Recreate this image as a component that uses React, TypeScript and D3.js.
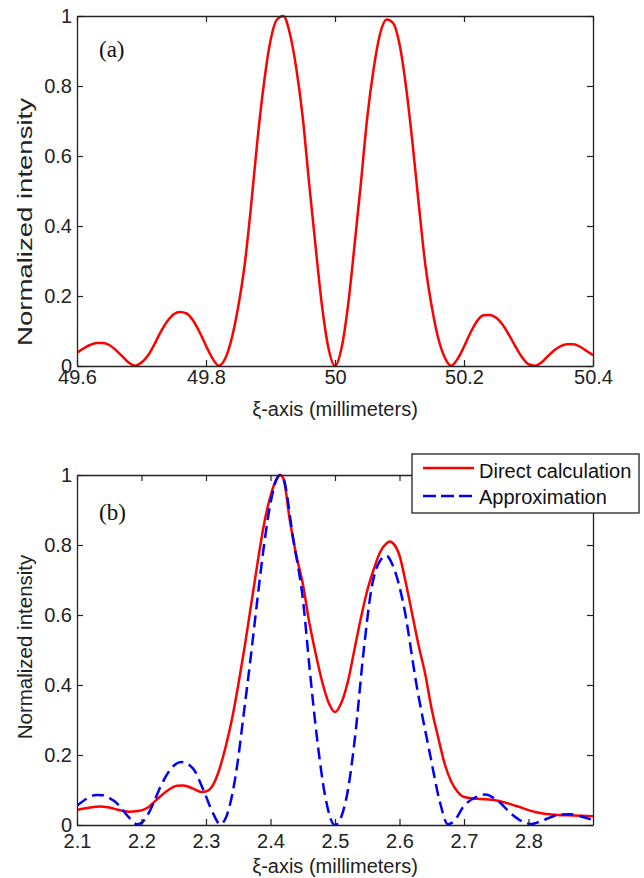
import React, { useRef, useEffect } from "react";
import * as d3 from "d3";

// ---- panel (a): direct calculation around 50 mm ----
const curveA: [number, number][] = [
  [49.6, 0.038], [49.61, 0.05], [49.62, 0.06], [49.63, 0.066], [49.64, 0.066],
  [49.65, 0.06], [49.66, 0.046], [49.67, 0.028], [49.68, 0.01], [49.69, 0.001],
  [49.7, 0.01], [49.71, 0.03], [49.72, 0.062], [49.73, 0.098], [49.74, 0.128],
  [49.75, 0.148], [49.76, 0.154], [49.77, 0.15], [49.78, 0.13], [49.79, 0.097],
  [49.8, 0.058], [49.81, 0.022], [49.82, 0.001], [49.83, 0.022], [49.84, 0.08],
  [49.85, 0.17], [49.86, 0.29], [49.87, 0.46], [49.88, 0.65], [49.89, 0.81],
  [49.9, 0.93], [49.91, 0.99], [49.92, 1.0], [49.93, 0.95], [49.94, 0.85],
  [49.95, 0.71], [49.96, 0.52], [49.97, 0.34], [49.98, 0.17], [49.99, 0.05],
  [50.0, 0.0], [50.01, 0.05], [50.02, 0.17], [50.03, 0.34], [50.04, 0.52],
  [50.05, 0.71], [50.06, 0.85], [50.07, 0.95], [50.08, 0.99], [50.09, 0.98],
  [50.1, 0.92], [50.11, 0.8], [50.12, 0.64], [50.13, 0.46], [50.14, 0.29],
  [50.15, 0.17], [50.16, 0.08], [50.17, 0.025], [50.18, 0.001], [50.19, 0.02],
  [50.2, 0.055], [50.21, 0.095], [50.22, 0.128], [50.23, 0.145], [50.24, 0.146],
  [50.25, 0.138], [50.26, 0.118], [50.27, 0.088], [50.28, 0.055], [50.29, 0.025],
  [50.3, 0.005], [50.31, 0.001], [50.32, 0.01], [50.33, 0.028], [50.34, 0.045],
  [50.35, 0.057], [50.36, 0.062], [50.37, 0.062], [50.38, 0.055], [50.39, 0.043],
  [50.4, 0.031],
];

// ---- panel (b): direct calculation vs approximation ----
const directB: [number, number][] = [
  [2.1, 0.043], [2.12, 0.05], [2.135, 0.053], [2.15, 0.05], [2.165, 0.043],
  [2.18, 0.038], [2.195, 0.04], [2.21, 0.05], [2.225, 0.075], [2.24, 0.098],
  [2.255, 0.112], [2.265, 0.113], [2.28, 0.104], [2.293, 0.094], [2.303, 0.098],
  [2.312, 0.118], [2.32, 0.155], [2.33, 0.22], [2.34, 0.3], [2.35, 0.4],
  [2.36, 0.51], [2.37, 0.63], [2.38, 0.75], [2.39, 0.86], [2.4, 0.94],
  [2.41, 0.99], [2.415, 1.0], [2.42, 0.99], [2.43, 0.87], [2.44, 0.77],
  [2.45, 0.69], [2.46, 0.58], [2.47, 0.49], [2.48, 0.41], [2.49, 0.35],
  [2.5, 0.323], [2.51, 0.35], [2.52, 0.41], [2.53, 0.5], [2.54, 0.59],
  [2.55, 0.67], [2.56, 0.73], [2.57, 0.78], [2.58, 0.805], [2.585, 0.81],
  [2.59, 0.805], [2.6, 0.77], [2.61, 0.69], [2.62, 0.6], [2.63, 0.51],
  [2.64, 0.43], [2.65, 0.33], [2.66, 0.25], [2.67, 0.175], [2.68, 0.125],
  [2.69, 0.095], [2.7, 0.08], [2.72, 0.075], [2.75, 0.07], [2.78, 0.055],
  [2.81, 0.037], [2.84, 0.029], [2.87, 0.027], [2.9, 0.025],
];

const approxB: [number, number][] = [
  [2.1, 0.055], [2.115, 0.075], [2.13, 0.086], [2.14, 0.085], [2.15, 0.077],
  [2.162, 0.062], [2.172, 0.04], [2.182, 0.019], [2.193, 0.002], [2.2, 0.006],
  [2.208, 0.024], [2.218, 0.06], [2.229, 0.108], [2.244, 0.157], [2.262, 0.18],
  [2.28, 0.161], [2.296, 0.1], [2.311, 0.033], [2.322, 0.002], [2.335, 0.043],
  [2.348, 0.166], [2.358, 0.31], [2.37, 0.49], [2.38, 0.65], [2.39, 0.8],
  [2.4, 0.92], [2.41, 0.99], [2.415, 1.0], [2.42, 0.99], [2.435, 0.82],
  [2.451, 0.632], [2.461, 0.44], [2.472, 0.25], [2.485, 0.08], [2.5, 0.0],
  [2.518, 0.08], [2.531, 0.25], [2.544, 0.49], [2.557, 0.68], [2.57, 0.755],
  [2.58, 0.769], [2.59, 0.74], [2.606, 0.632], [2.627, 0.394], [2.647, 0.205],
  [2.663, 0.063], [2.675, 0.002], [2.685, 0.012], [2.699, 0.052], [2.72, 0.081],
  [2.733, 0.087], [2.751, 0.071], [2.776, 0.028], [2.797, 0.005], [2.805, 0.003],
  [2.818, 0.01], [2.844, 0.028], [2.864, 0.031], [2.88, 0.025], [2.9, 0.014],
];

const yTicks = [0, 0.2, 0.4, 0.6, 0.8, 1];
const yTickLabels = ["0", "0.2", "0.4", "0.6", "0.8", "1"];
const xTicksA = [49.6, 49.8, 50, 50.2, 50.4];
const xTickLabelsA = ["49.6", "49.8", "50", "50.2", "50.4"];
const xTicksB = [2.1, 2.2, 2.3, 2.4, 2.5, 2.6, 2.7, 2.8];
const xTickLabelsB = ["2.1", "2.2", "2.3", "2.4", "2.5", "2.6", "2.7", "2.8"];
const legendLabels = ["Direct calculation", "Approximation"];

const SANS = "Arial, 'Liberation Sans', sans-serif";
const SERIF = "'Times New Roman', 'Liberation Serif', serif";
const AXIS = "#222";

type Panel = {
  id: string;
  top: number;
  bottom: number;
  domain: [number, number];
  ticks: number[];
  tickLabels: string[];
  tag: string;
  tagY: number;
  xPad: number;
  xLabelY: number;
  yLabelY: number;
  yLabelLen?: number;
  yLabelSize: number;
};

const App: React.FC = () => {
  const svgRef = useRef<SVGSVGElement | null>(null);

  useEffect(() => {
    const svg = d3.select(svgRef.current);
    svg.selectAll("*").remove();

    const left = 77;
    const right = 593;

    const drawPanel = (p: Panel, series: { data: [number, number][]; color: string; dash?: string }[]) => {
      const x = d3.scaleLinear().domain(p.domain).range([left, right]);
      const y = d3.scaleLinear().domain([0, 1]).range([p.bottom, p.top]);
      const g = svg.append("g");

      g.append("clipPath").attr("id", `clip-${p.id}`)
        .append("rect")
        .attr("x", left).attr("y", p.top - 2)
        .attr("width", right - left).attr("height", p.bottom - p.top + 2);

      const line = d3.line<[number, number]>()
        .x((d) => x(d[0]))
        .y((d) => y(d[1]))
        .curve(d3.curveMonotoneX);

      series.forEach((s) => {
        g.append("path")
          .datum(s.data)
          .attr("clip-path", `url(#clip-${p.id})`)
          .attr("d", line)
          .attr("fill", "none")
          .attr("stroke", s.color)
          .attr("stroke-width", 2.5)
          .attr("stroke-linejoin", "round")
          .attr("stroke-dasharray", s.dash ?? null);
      });

      // axes, ticks pointing inward like matlab
      const bottomAxis = d3.axisBottom(x)
        .tickValues(p.ticks)
        .tickFormat((_, i) => p.tickLabels[i])
        .tickSizeInner(-6).tickSizeOuter(0).tickPadding(p.xPad);
      const topAxis = d3.axisTop(x).tickValues(p.ticks).tickFormat(() => "")
        .tickSizeInner(-6).tickSizeOuter(0);
      const leftAxis = d3.axisLeft(y)
        .tickValues(yTicks)
        .tickFormat((_, i) => yTickLabels[i])
        .tickSizeInner(-6).tickSizeOuter(0).tickPadding(5);
      const rightAxis = d3.axisRight(y).tickValues(yTicks).tickFormat(() => "")
        .tickSizeInner(-6).tickSizeOuter(0);

      const axes = [
        g.append("g").attr("transform", `translate(0,${p.bottom})`).call(bottomAxis),
        g.append("g").attr("transform", `translate(0,${p.top})`).call(topAxis),
        g.append("g").attr("transform", `translate(${left},0)`).call(leftAxis),
        g.append("g").attr("transform", `translate(${right},0)`).call(rightAxis),
      ];
      axes.forEach((a) => {
        a.select(".domain").attr("stroke", AXIS).attr("stroke-width", 1.3);
        a.selectAll(".tick line").attr("stroke", AXIS).attr("stroke-width", 1.2);
        a.selectAll(".tick text")
          .attr("fill", AXIS)
          .style("font-family", SANS)
          .style("font-size", "20px");
      });

      g.append("text")
        .attr("x", 99).attr("y", p.tagY)
        .style("font-family", SERIF).style("font-size", "23px")
        .attr("fill", "#111")
        .text(p.tag);

      g.append("text")
        .attr("x", (left + right) / 2).attr("y", p.xLabelY)
        .attr("text-anchor", "middle")
        .attr("fill", AXIS)
        .style("font-family", SANS).style("font-size", "20px")
        .text("ξ-axis (millimeters)");

      const yl = g.append("text")
        .attr("transform", `translate(32,${p.yLabelY}) rotate(-90)`)
        .attr("text-anchor", "middle")
        .attr("fill", AXIS)
        .style("font-family", SANS).style("font-size", `${p.yLabelSize}px`)
        .text("Normalized intensity");
      if (p.yLabelLen) {
        yl.attr("textLength", p.yLabelLen).attr("lengthAdjust", "spacingAndGlyphs");
      }
    };

    drawPanel(
      {
        id: "a", top: 16, bottom: 366, domain: [49.6, 50.4],
        ticks: xTicksA, tickLabels: xTickLabelsA, tag: "(a)", tagY: 57,
        xPad: 4, xLabelY: 416, yLabelY: 222, yLabelLen: 248, yLabelSize: 20,
      },
      [{ data: curveA, color: "#ff0000" }]
    );

    drawPanel(
      {
        id: "b", top: 475, bottom: 825, domain: [2.1, 2.9],
        ticks: xTicksB, tickLabels: xTickLabelsB, tag: "(b)", tagY: 520,
        xPad: 9, xLabelY: 873, yLabelY: 647, yLabelSize: 20.5,
      },
      [
        { data: directB, color: "#ff0000" },
        { data: approxB, color: "#0000ff", dash: "12,6" },
      ]
    );

    // legend for panel (b)
    const legend = svg.append("g");
    legend.append("rect")
      .attr("x", 412).attr("y", 454)
      .attr("width", 227).attr("height", 59)
      .attr("fill", "#fff").attr("stroke", AXIS).attr("stroke-width", 1.3);
    const legendStyles = [
      { color: "#ff0000", dash: null as string | null, lineY: 468, textY: 478 },
      { color: "#0000ff", dash: "13,5", lineY: 496, textY: 504 },
    ];
    legendLabels.forEach((label, i) => {
      const s = legendStyles[i];
      legend.append("line")
        .attr("x1", 423).attr("x2", 474)
        .attr("y1", s.lineY).attr("y2", s.lineY)
        .attr("stroke", s.color).attr("stroke-width", 2.5)
        .attr("stroke-dasharray", s.dash);
      legend.append("text")
        .attr("x", 479).attr("y", s.textY)
        .attr("fill", "#111")
        .style("font-family", SANS).style("font-size", "20px")
        .text(label);
    });
  }, []);

  return (
    <div style={{ position: "absolute", left: 0, top: 0, background: "#fff" }}>
      <svg ref={svgRef} width={644} height={878} style={{ display: "block" }} />
    </div>
  );
};

export default App;
